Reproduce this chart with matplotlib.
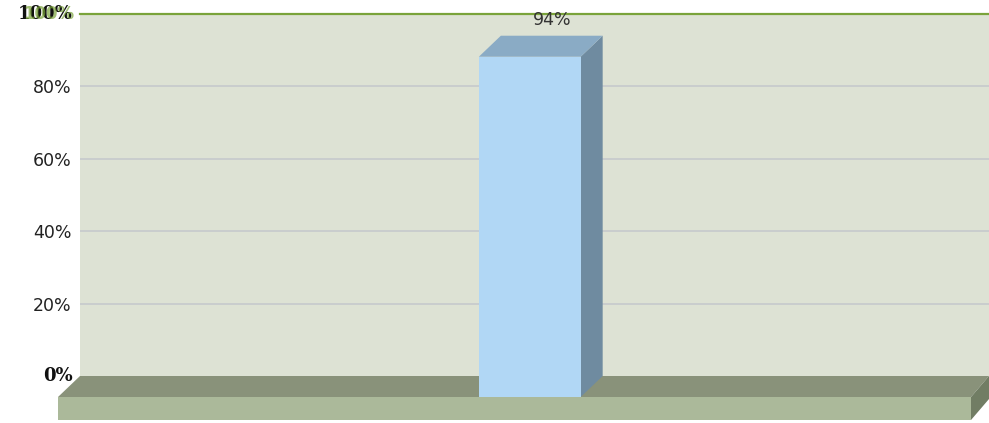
import matplotlib
matplotlib.use("Agg")
import matplotlib.pyplot as plt
from matplotlib.patches import Polygon

# data
categories = [""]
values = [0.94]
tick_vals = [0.2, 0.4, 0.6, 0.8]
tick_labels = ["20%", "40%", "60%", "80%"]

W, H = 989, 423
fig = plt.figure(figsize=(W / 100, H / 100), dpi=100)
# plot area (back wall) in pixels
x0, x1, ytop, ybot = 80, 989, 14, 376
ax = fig.add_axes([x0 / W, (H - ybot) / H, (x1 - x0) / W, (ybot - ytop) / H])
ax.set_xlim(0, 1)
ax.set_ylim(0, 1)
ax.set_facecolor("#dde2d4")
for s in ax.spines.values():
    s.set_visible(False)
ax.set_xticks([])
ax.set_yticks(tick_vals)
ax.set_yticklabels(tick_labels, fontsize=12.5, color="#222222")
ax.tick_params(axis="y", length=0, pad=6)
for v in tick_vals:
    ax.axhline(v, color="#c5c9cc", lw=1.2, zorder=1)
ax.axhline(1.0, color="#7aa33a", lw=1.6, zorder=2, clip_on=False)

# 3d depth offset in data units
dx = -22 / (x1 - x0)
dy = -21 / (ybot - ytop)
th = -23 / (ybot - ytop)
fx = -18 / (x1 - x0)  # right end of floor

# floor
floor_top = Polygon([(0, 0), (1, 0), (1 + fx, dy), (dx, dy)], closed=True,
                    fc="#89927a", ec="none", clip_on=False, zorder=3)
floor_front = Polygon([(dx, dy), (1 + fx, dy), (1 + fx, dy + th), (dx, dy + th)],
                      closed=True, fc="#abb99a", ec="none", clip_on=False, zorder=3)
floor_side = Polygon([(1 + fx, dy), (1, 0), (1, th), (1 + fx, dy + th)],
                     closed=True, fc="#717d64", ec="none", clip_on=False, zorder=3)
for p in (floor_top, floor_front, floor_side):
    ax.add_patch(p)

# bar
bw = 0.112
for i, v in enumerate(values):
    c = 0.519 + i
    l, r = c - bw / 2, c + bw / 2
    side = Polygon([(r + dx, dy), (r, 0), (r, v), (r + dx, v + dy)], closed=True,
                   fc="#6f8ba0", ec="none", clip_on=False, zorder=4)
    top = Polygon([(l + dx, v + dy), (l, v), (r, v), (r + dx, v + dy)], closed=True,
                  fc="#8aabc5", ec="none", clip_on=False, zorder=4)
    front = Polygon([(l + dx, dy), (r + dx, dy), (r + dx, v + dy), (l + dx, v + dy)],
                    closed=True, fc="#b1d7f5", ec="none", clip_on=False, zorder=5)
    for p in (side, top, front):
        ax.add_patch(p)
    ax.text(c, v + 0.043, f"{v:.0%}", ha="center", va="center", fontsize=12.5,
            color="#333333", zorder=6)

# overlapping axis end labels
ax.text(-0.008, 1.0, "100%", transform=ax.transAxes, ha="right", va="center",
        fontsize=13, fontweight="bold", family="DejaVu Serif", color="#111111")
ax.text(-0.006, 1.0, "100%", transform=ax.transAxes, ha="right", va="center",
        fontsize=12, fontweight="bold", color="#7aa33a", alpha=0.7)
ax.text(-0.008, 0.0, "0%", transform=ax.transAxes, ha="right", va="center",
        fontsize=13, fontweight="bold", family="DejaVu Serif", color="#111111")

fig.savefig("out.png", dpi=100)
